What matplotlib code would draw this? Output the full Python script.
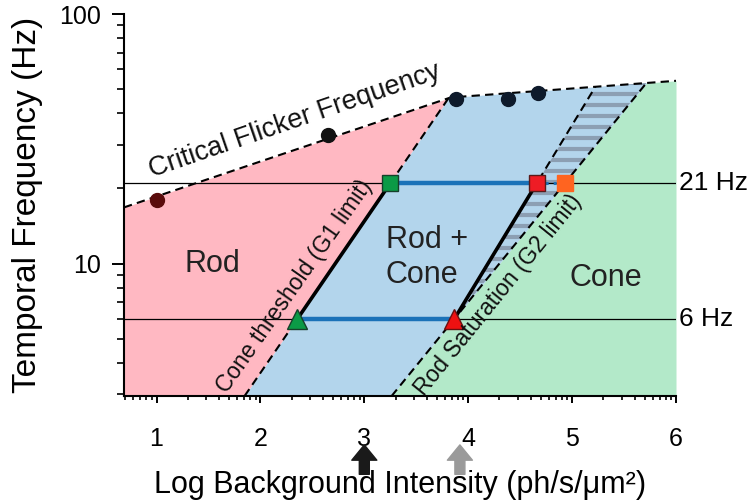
import numpy as np
import matplotlib.pyplot as plt
from matplotlib.ticker import FixedLocator, NullFormatter, FuncFormatter

plt.rcParams['font.family'] = ['Liberation Sans', 'DejaVu Sans']

# critical flicker frequency envelope (log intensity, Hz)
cff_x = [0.687, 3.83, 6.0]
cff_hz = [16.8, 46.3, 54.0]

# measured CFF points
dot_x = [1.0, 2.65, 3.88, 4.38, 4.67]
dot_hz = [18.0, 32.9, 45.8, 45.8, 48.2]
dot_colors = ['#5a0b0b', '#111111', '#0e1a2b', '#0e1a2b', '#0e1a2b']

# probe frequencies and the boundary positions at each of them
probe_hz = [6, 21]
cone_thr_x = [2.355, 3.25]   # G1 limit
rod_sat_x = [3.866, 4.66]    # rod saturation (measured)
g2_x = [3.866, 4.93]         # G2 limit

region_names = ['Rod', 'Rod +\nCone', 'Cone']
region_x = [1.54, 3.6, 5.32]
region_hz = [10.0, 10.6, 8.75]

arrow_x = [3.0, 3.92]
arrow_colors = ['#1a1a1a', '#9a9a9a']

y_lo, y_hi = 2.95, 100
x_lo, x_hi = 0.687, 6.0

pink = '#ffb8c2'
blue = '#b3d5ec'
green = '#b3e9c9'


def line_logy(xs, pts):
    l6, l21 = np.log10(probe_hz)
    return l6 + (xs - pts[0]) * (l21 - l6) / (pts[1] - pts[0])


def cff_logy(xs):
    return np.interp(xs, cff_x, np.log10(cff_hz))


xs = np.linspace(x_lo, x_hi, 20001)
cff = 10 ** cff_logy(xs)
yc = 10 ** line_logy(xs, cone_thr_x)
ya = 10 ** line_logy(xs, rod_sat_x)
yb = 10 ** line_logy(xs, g2_x)


def meet_cff(pts):
    d = line_logy(xs, pts) - cff_logy(xs)
    i = np.argmax(d >= 0)
    return xs[i], 10 ** cff_logy(xs[i])


def meet_bottom(pts):
    l6, l21 = np.log10(probe_hz)
    return pts[0] + (np.log10(y_lo) - l6) * (pts[1] - pts[0]) / (l21 - l6)


fig = plt.figure(figsize=(7.5, 5.03), dpi=100)
ax = fig.add_axes([124 / 750, 1 - 396 / 503, 552 / 750, 382 / 503])
ax.set_yscale('log')

# regions
lo = np.maximum(y_lo, yc)
ax.fill_between(xs, lo, cff, where=lo < cff, color=pink, lw=0, zorder=0)
lo = np.maximum(y_lo, yb)
up = np.minimum(cff, yc)
ax.fill_between(xs, lo, up, where=lo < up, color=blue, lw=0, zorder=0)
up = np.minimum(cff, yb)
ax.fill_between(xs, y_lo, up, where=up > y_lo, color=green, lw=0, zorder=0)
up = np.minimum(cff, ya)
band = ax.fill_between(xs, yb, up, where=(xs >= rod_sat_x[0]) & (up > yb),
                       color=blue, lw=0, zorder=0.5)

# horizontal stripes inside the band
stripes = 10 ** np.arange(np.log10(6) + 0.02, 2, 0.044)
hl = ax.hlines(stripes, rod_sat_x[0], x_hi, color='#8c9fb3', lw=3, zorder=0.6)
hl.set_clip_path(band.get_paths()[0], band.get_transform())

# probe lines
for hz in probe_hz:
    ax.plot([x_lo, x_hi], [hz, hz], color='black', lw=0.9, zorder=1)

dash = (0, (4, 2.5))
ax.plot(cff_x, cff_hz, color='black', lw=1.5, ls=dash, zorder=2)

for pts, start in [(cone_thr_x, meet_bottom(cone_thr_x)),
                   (g2_x, meet_bottom(g2_x)),
                   (rod_sat_x, rod_sat_x[0])]:
    tx, thz = meet_cff(pts)
    shz = 10 ** line_logy(np.array(start), pts)
    ax.plot([start, tx], [shz, thz], color='black', lw=1.5, ls=dash, zorder=2)

for pts in [cone_thr_x, rod_sat_x]:
    ax.plot(pts, probe_hz, color='black', lw=2.6, zorder=3)

# thick blue spans
ax.plot([cone_thr_x[0], rod_sat_x[0]], [probe_hz[0]] * 2, color='#1b72b8', lw=3.2, zorder=3)
ax.plot([cone_thr_x[1], rod_sat_x[1]], [probe_hz[1]] * 2, color='#1b72b8', lw=3.2, zorder=3)
ax.plot([rod_sat_x[1], g2_x[1]], [probe_hz[1]] * 2, color='#1b72b8', lw=2.2, ls=':', zorder=3)

# markers
for x, hz, c in zip(dot_x, dot_hz, dot_colors):
    ax.plot(x, hz, 'o', ms=10, color=c, zorder=5)
ax.plot(cone_thr_x[0], probe_hz[0], '^', ms=14, color='#0b9a46', mec='#16402a', mew=1, zorder=5)
ax.plot(rod_sat_x[0], probe_hz[0], '^', ms=14, color='#ee1111', mec='#6a1010', mew=1, zorder=5)
ax.plot(cone_thr_x[1], probe_hz[1], 's', ms=11.5, color='#0b9a46', mec='#16402a', mew=1, zorder=5)
ax.plot(rod_sat_x[1], probe_hz[1], 's', ms=11.5, color='#ee1c25', mec='#5a1a1a', mew=1, zorder=5)
ax.plot(g2_x[1], probe_hz[1], 's', ms=11.5, color='#ff6420', mec='#ff6420', mew=1, zorder=5)

# text
for name, x, hz in zip(region_names, region_x, region_hz):
    ax.text(x, hz, name, fontsize=22, ha='center', va='center', color='#222222',
            multialignment='left', zorder=6)
ax.text(2.33, 37.5, 'Critical Flicker Frequency', fontsize=19.5, rotation=19,
        ha='center', va='center', rotation_mode='anchor', color='#111111', zorder=6)
ax.text(2.33, 8.1, 'Cone threshold (G1 limit)', fontsize=16.5, rotation=55,
        ha='center', va='center', rotation_mode='anchor', color='#111111', zorder=6)
ax.text(4.29, 7.5, 'Rod Saturation (G2 limit)', fontsize=16.5, rotation=51,
        ha='center', va='center', rotation_mode='anchor', color='#111111', zorder=6)
for hz in probe_hz:
    ax.text(x_hi + 0.03, hz, f'{hz} Hz', fontsize=19, ha='left', va='center', clip_on=False)

for x, c in zip(arrow_x, arrow_colors):
    ax.annotate('', xy=(x, -0.128), xytext=(x, -0.205),
                xycoords=('data', 'axes fraction'), textcoords=('data', 'axes fraction'),
                arrowprops=dict(arrowstyle='simple,head_length=1.1,head_width=1.8,tail_width=0.72',
                                color=c, shrinkA=0, shrinkB=0),
                annotation_clip=False)

# axes
ax.set_xlim(x_lo, x_hi)
ax.set_ylim(y_lo, y_hi)
ax.set_xticks(range(1, 7))
minor = [k + np.log10(m) for k in range(0, 6) for m in range(2, 10)]
ax.xaxis.set_minor_locator(FixedLocator([m for m in minor if x_lo <= m <= x_hi]))
ax.yaxis.set_major_locator(FixedLocator([10, 100]))
ax.yaxis.set_major_formatter(FuncFormatter(lambda v, p: f'{v:g}'))
ax.yaxis.set_minor_locator(FixedLocator([3, 4, 5, 6, 7, 8, 9, 20, 30, 40, 50, 60, 70, 80, 90]))
ax.yaxis.set_minor_formatter(NullFormatter())

ax.tick_params(axis='both', which='both', direction='out', labelsize=18)
ax.tick_params(axis='y', which='major', length=8.5, width=1.4, pad=8)
ax.tick_params(axis='y', which='minor', length=5, width=1.2)
ax.tick_params(axis='x', which='major', length=5, width=1.4, pad=17)
ax.tick_params(axis='x', which='minor', length=3, width=1.2)
for s in ['top', 'right']:
    ax.spines[s].set_visible(False)
for s in ['left', 'bottom']:
    ax.spines[s].set_linewidth(1.5)

ax.set_ylabel('Temporal Frequency (Hz)', fontsize=24, labelpad=12)
ax.set_xlabel('Log Background Intensity (ph/s/μm²)', fontsize=22, labelpad=14)

fig.savefig('out.png', dpi=100)
